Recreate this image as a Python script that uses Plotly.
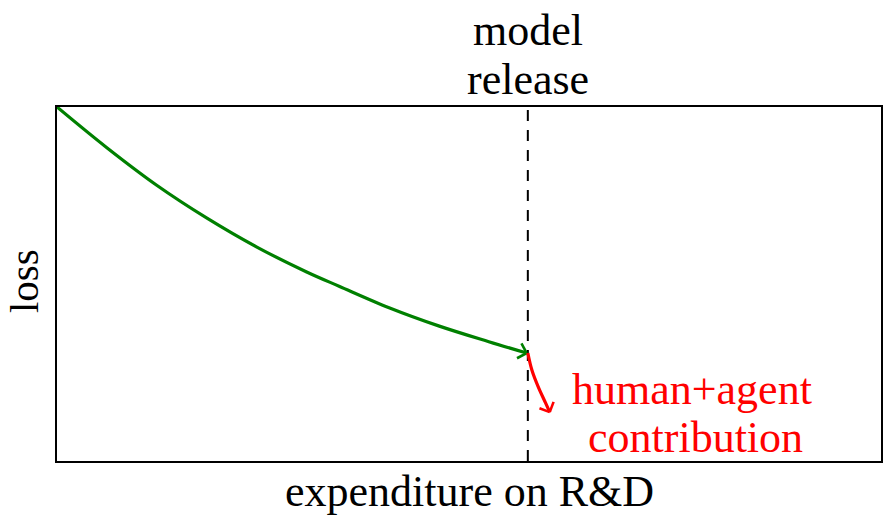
import numpy as np
import plotly.graph_objects as go

# data (normalized units; x: expenditure on R&D, y: loss)
green_x = [0.0, 0.0605, 0.121, 0.182, 0.242, 0.303, 0.343, 0.403, 0.464, 0.524, 0.570]
green_y = [1.0, 0.885, 0.779, 0.686, 0.605, 0.534, 0.493, 0.433, 0.381, 0.337, 0.305]
red_x = [0.5714, 0.5763, 0.5839, 0.5929, 0.598]
red_y = [0.305, 0.257, 0.210, 0.164, 0.138]
release_x = 0.5714

FONT = "Liberation Serif"
FS = 44
W, H = 885, 527
L, R, T, B = 57, 2, 107, 66
pw, ph = W - L - R, H - T - B


def py2paper(py):
    return (H - B - py) / ph


def px2paper(px):
    return (px - L) / pw


def chevron(xs, ys, length=11, angle=45):
    # arrowhead arms computed from the last segment direction (pixel space)
    dx = (xs[-1] - xs[-2]) * pw
    dy = (ys[-1] - ys[-2]) * ph
    th = np.arctan2(dy, dx)
    out_x, out_y = [], []
    for s in (1, -1):
        a = th + np.pi - s * np.radians(angle)
        out_x += [xs[-1] + length * np.cos(a) / pw, xs[-1], None]
        out_y += [ys[-1] + length * np.sin(a) / ph, ys[-1], None]
    return out_x, out_y


fig = go.Figure()
fig.add_trace(go.Scatter(x=[release_x, release_x], y=[0, 1], mode="lines",
                         line=dict(color="black", width=2, dash="11px,9px"),
                         hoverinfo="skip"))
fig.add_trace(go.Scatter(x=green_x, y=green_y, mode="lines",
                         line=dict(color="green", width=3.2, shape="spline",
                                   smoothing=1.0)))
gx, gy = chevron(green_x, green_y)
fig.add_trace(go.Scatter(x=gx, y=gy, mode="lines",
                         line=dict(color="green", width=2.6)))
fig.add_trace(go.Scatter(x=red_x, y=red_y, mode="lines",
                         line=dict(color="red", width=3.2, shape="spline",
                                   smoothing=1.0)))
rx, ry = chevron(red_x, red_y)
fig.add_trace(go.Scatter(x=rx, y=ry, mode="lines",
                         line=dict(color="red", width=2.6)))

ax = dict(range=[0, 1], showgrid=False, zeroline=False, showticklabels=False,
          ticks="", showline=True, linecolor="black", linewidth=2, mirror=True,
          fixedrange=True)
fig.update_layout(
    width=W, height=H, autosize=False, showlegend=False,
    margin=dict(l=L, r=R, t=T, b=B, pad=0),
    paper_bgcolor="white", plot_bgcolor="white",
    xaxis=ax, yaxis=ax,
    font=dict(family=FONT, size=FS, color="black"),
)


def label(text, px, py, color="black", angle=0, size=FS):
    fig.add_annotation(x=px2paper(px), y=py2paper(py), xref="paper",
                       yref="paper", xanchor="center", yanchor="middle",
                       text=text, showarrow=False, textangle=angle,
                       font=dict(family=FONT, size=size, color=color))


label("model", 529, 30)
label("release", 529, 79)
label("human+agent", 694, 389, color="red")
label("contribution", 697, 437, color="red")
label("loss", 24, 281, angle=-90, size=41)
label("expenditure on R&D", 471, 491)

fig.write_html(
    "out.html",
    config={"displayModeBar": False},
    post_script="document.body.style.margin='0';document.body.style.overflow='hidden';",
)
